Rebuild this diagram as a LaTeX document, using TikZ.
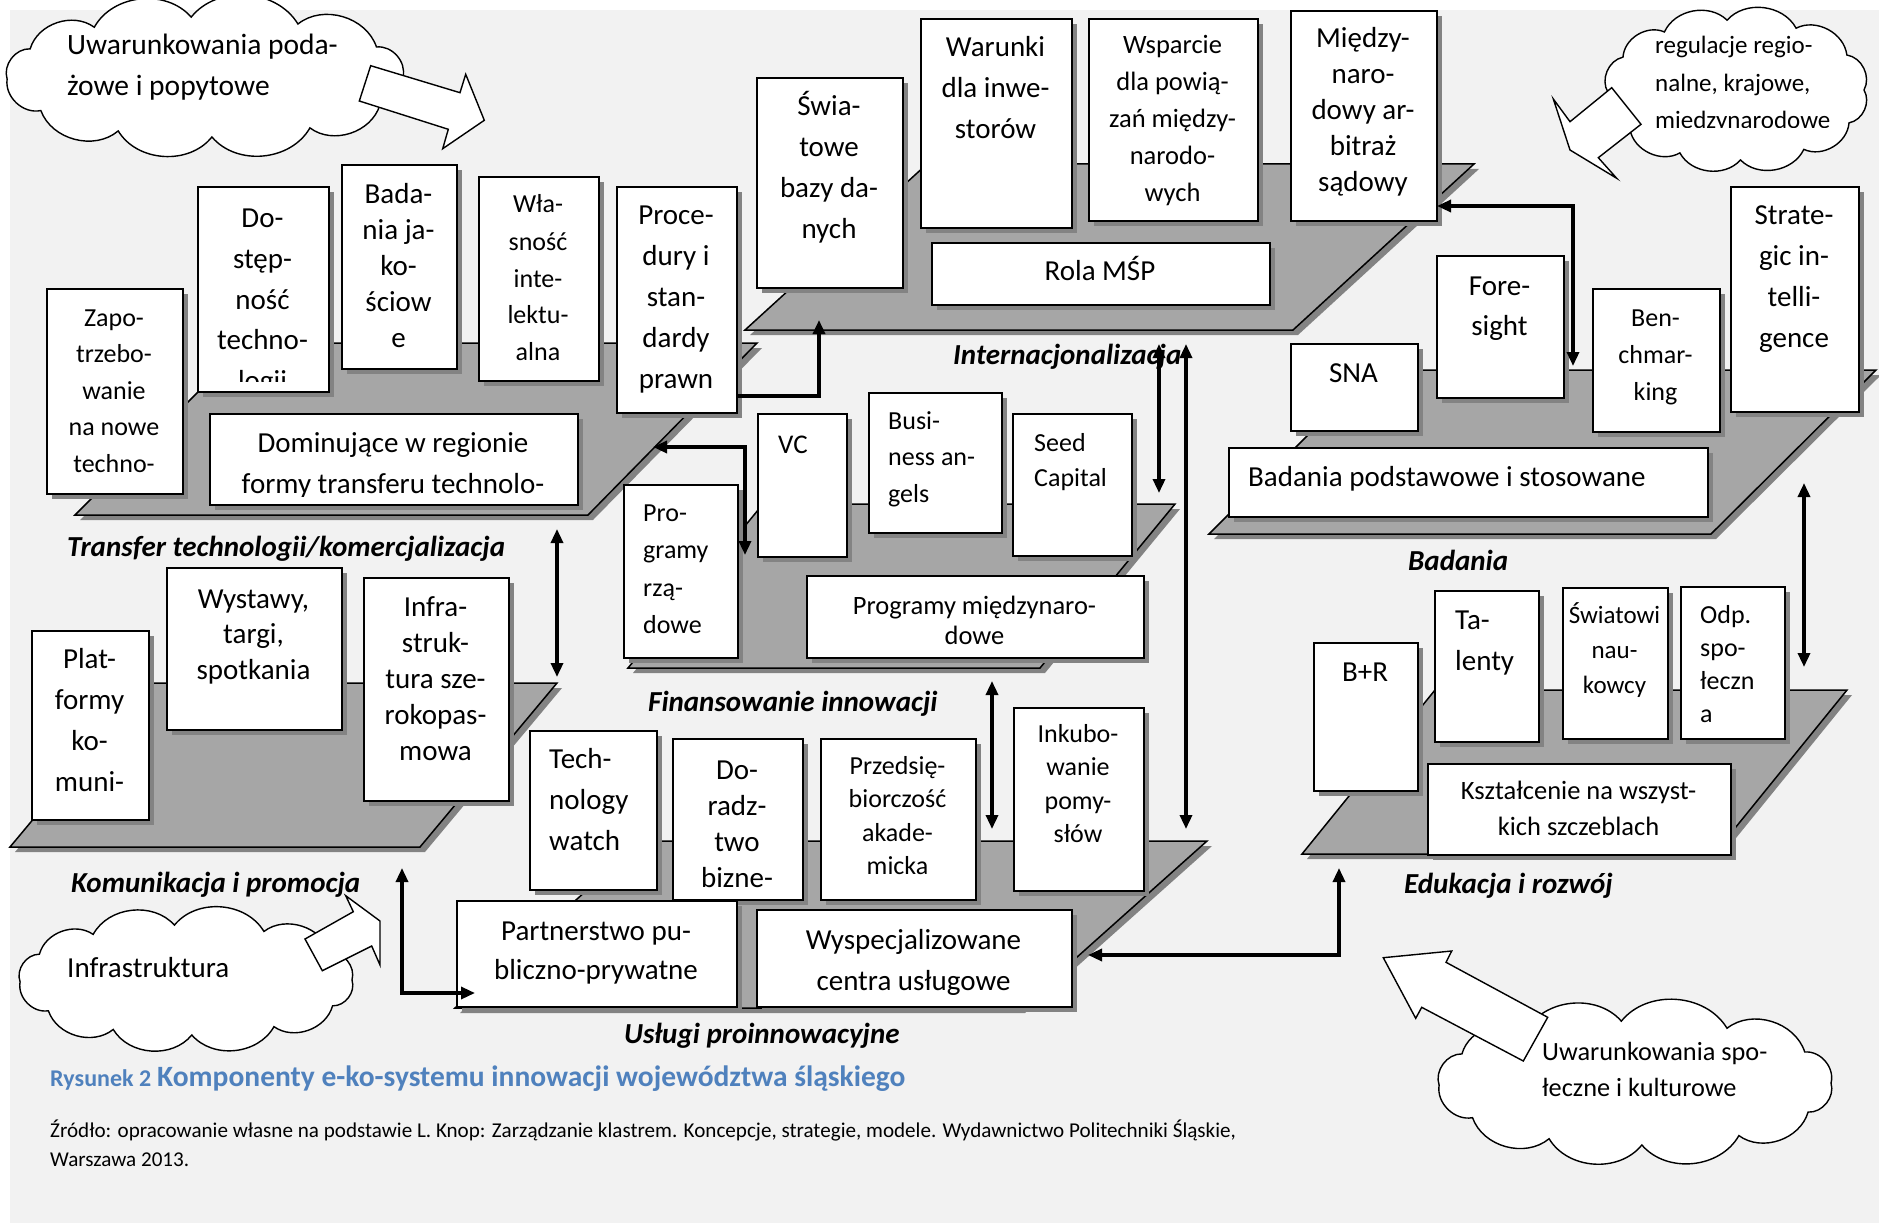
\documentclass[tikz,border=0pt]{standalone}
\usepackage{fontspec}
\setmainfont{Carlito}
\usetikzlibrary{arrows.meta}
\definecolor{bgc}{HTML}{F2F2F2}
\definecolor{platc}{HTML}{A6A6A6}
\definecolor{shc}{HTML}{838383}
\definecolor{capblue}{HTML}{4F81BD}
\newcommand\fs[2]{\fontsize{#1}{#2}\selectfont}
\newcommand\Lc[1]{\begin{tabular}[t]{@{}c@{}}#1\end{tabular}}
\newcommand\Ll[1]{\begin{tabular}[t]{@{}l@{}}#1\end{tabular}}
\tikzset{
  boxst/.style={draw=black, fill=white, line width=1.6pt, inner sep=0pt, rectangle},
  txt/.style={inner sep=0pt, anchor=base},
  txtl/.style={inner sep=0pt, anchor=base west},
  plat/.style={fill=platc, draw=black, line width=1.5pt, line join=miter},
  conn/.style={line width=3.3pt, -{Triangle[length=14pt,width=12pt]}},
  conntwo/.style={line width=3.3pt, {Triangle[length=14pt,width=12pt]}-{Triangle[length=14pt,width=12pt]}},
  lbl/.style={inner sep=0pt, anchor=base west, font=\fs{29}{35}\bfseries\itshape},
  blockarrow/.style={draw=black, fill=white, line width=1.4pt, line join=miter},
  cloudline/.style={draw=black, fill=white, line width=1.4pt},
}
% white box with a flat drop shadow: name, x1, y1, x2, y2
\newcommand\drawbox[5]{%
  \fill[shc] (#2+6,#3+6) rectangle (#4+6,#5+6);
  \node[boxst, anchor=north west, minimum width=#4-#2, minimum height=#5-#3] (#1) at (#2,#3) {};}
% grey platform (parallelogram) with its shadow: TL, TR, BR, BL
\newcommand\platform[8]{%
  \fill[shc] (#1+5,#2+5) -- (#3+5,#4+5) -- (#5+5,#6+5) -- (#7+5,#8+5) -- cycle;
  \draw[plat] (#1,#2) -- (#3,#4) -- (#5,#6) -- (#7,#8) -- cycle;}
% cloud: puffs bulging out of an ellipse; name, cx, cy, a, b
\newcommand\drawcloud[5]{%
  \coordinate (#1) at (#2,#3);
  \draw[cloudline, shift={(#2,#3)}] (0:#4 and #5)
    \foreach \t in {28,58,88,116,146,178,208,236,266,298,330,360} { to[bend left=55] (\t:#4 and #5) } -- cycle;}
\begin{document}
\begin{tikzpicture}[x=1pt,y=-1pt]
\useasboundingbox (0,0) rectangle (1879,1225);
\fill[white] (0,0) rectangle (1879,1225);
\fill[bgc] (10,10) rectangle (1879,1223);

% ---------- clouds with their block arrows ----------
\drawcloud{cl1}{205}{77}{198}{60}
\draw[blockarrow] (370.7,65.7) -- (460,92.7) -- (465.7,74.3) -- (484.3,120.3)
  -- (442.7,148.7) -- (448.3,129.3) -- (359.3,101) -- cycle;
\node[txtl, font=\fs{29.5}{41}] (t-cl1) at (67,55) {\Ll{Uwarunkowania poda-\\żowe i popytowe}};

\drawcloud{cl2}{186}{980}{166}{55}
\draw[blockarrow] (305,939) -- (353.3,911.7) -- (345.7,895.7) -- (380,921)
  -- (380,965) -- (371.7,946) -- (322.3,970.7) -- cycle;
\node[txtl, font=\fs{29}{36}] (t-cl2) at (67,977) {Infrastruktura};

\drawcloud{cl3}{1736}{90}{128}{70}
\draw[blockarrow] (1611.7,87.7) -- (1570,121.7) -- (1553.3,99) -- (1570,150)
  -- (1616.7,178.3) -- (1598.3,157.7) -- (1641,124.3) -- cycle;
\begin{scope}
  \clip (1600,10) rectangle (1879,128);
  \node[txtl, font=\fs{25}{37.5}] (t-cl3) at (1655,54) {\Ll{regulacje regio-\\nalne, krajowe,\\międzynarodowe}};
\end{scope}

\drawcloud{cl4}{1635}{1083}{196}{62}
\draw[blockarrow] (1383.3,957.7) -- (1451.7,951) -- (1446,962.3) -- (1547.7,1017.3)
  -- (1523.3,1061) -- (1421.7,1007.3) -- (1415.7,1018.3) -- cycle;
\node[txtl, font=\fs{26.3}{36}] (t-cl4) at (1542,1060) {\Ll{Uwarunkowania spo-\\łeczne i kulturowe}};

% ---------- Internacjonalizacja ----------
\platform{927}{164}{1474}{164}{1293}{330}{745}{330}
\drawbox{swia}{756}{77}{902}{287}
\node[txt, font=\fs{29}{41}] (t-swia) at (829,116) {\Lc{Świa-\\towe\\bazy da-\\nych}};
\drawbox{waru}{920}{18}{1071}{227}
\node[txt, font=\fs{29}{41}] (t-waru) at (995.5,57) {\Lc{Warunki\\dla inwe-\\storów}};
\drawbox{wspa}{1088}{18}{1257}{220}
\node[txt, font=\fs{26.5}{37}] (t-wspa) at (1172.5,54) {\Lc{Wsparcie\\dla powią-\\zań między-\\narodo-\\wych}};
\drawbox{miedz}{1290}{10}{1436}{220}
\node[txt, font=\fs{29}{36}] (t-miedz) at (1363,48) {\Lc{Między-\\naro-\\dowy ar-\\bitraż\\sądowy}};
\drawbox{rola}{931}{242}{1269}{304}
\node[txt, font=\fs{29}{41}] (t-rola) at (1100,280) {Rola MŚP};

% ---------- Transfer technologii ----------
\platform{247}{343}{757}{343}{588}{515}{75}{515}
\drawbox{zapo}{46}{288}{182}{493}
\node[txt, font=\fs{26}{36.5}] (t-zapo) at (114,326) {\Lc{Zapo-\\trzebo-\\wanie\\na nowe\\techno-}};
\drawbox{dost}{197}{186}{328}{391}
\begin{scope}
  \clip (197,186) rectangle (328,381);
  \node[txt, font=\fs{29}{41}] (t-dost) at (262.5,227) {\Lc{Do-\\stęp-\\ność\\techno-\\logii}};
\end{scope}
\drawbox{bada}{341}{164}{456}{368}
\node[txt, font=\fs{29}{36}] (t-bada) at (398.5,204) {\Lc{Bada-\\nia ja-\\ko-\\ściow\\e}};
\drawbox{wla}{478}{176}{598}{380}
\node[txt, font=\fs{26}{37}] (t-wla) at (538,213) {\Lc{Wła-\\sność\\inte-\\lektu-\\alna}};
\drawbox{proc}{616}{186}{736}{412}
\node[txt, font=\fs{29}{41}] (t-proc) at (676,225) {\Lc{Proce-\\dury i\\stan-\\dardy\\prawn}};
\drawbox{domi}{209}{413}{577}{504}
\begin{scope}
  \clip (209,413) rectangle (577,496);
  \node[txt, font=\fs{29}{41}] (t-domi) at (393,452) {\Lc{Dominujące w regionie\\formy transferu technolo-}};
\end{scope}

% ---------- Badania ----------
\platform{1373}{370}{1876}{370}{1711}{534}{1209}{534}
\drawbox{sna}{1290}{343}{1417}{430}
\node[txt, font=\fs{29}{41}] (t-sna) at (1353.5,382) {SNA};
\drawbox{fore}{1436}{255}{1563}{397}
\node[txt, font=\fs{29}{40}] (t-fore) at (1499.5,295) {\Lc{Fore-\\sight}};
\drawbox{bench}{1592}{288}{1719}{431}
\node[txt, font=\fs{26}{37}] (t-bench) at (1655.5,326) {\Lc{Ben-\\chmar-\\king}};
\drawbox{strat}{1730}{186}{1858}{411}
\node[txt, font=\fs{29}{41}] (t-strat) at (1794,225) {\Lc{Strate-\\gic in-\\telli-\\gence}};
\drawbox{bpod}{1228}{447}{1707}{516}
\node[txtl, font=\fs{29}{41}] (t-bpod) at (1248,486) {Badania podstawowe i stosowane};

% ---------- Finansowanie innowacji ----------
\platform{763}{504}{1175}{504}{1040}{668}{628}{668}
\drawbox{prog}{623}{484}{737}{657}
\node[txtl, font=\fs{26}{37.5}] (t-prog) at (643,521) {\Ll{Pro-\\gramy\\rzą-\\dowe}};
\drawbox{vc}{757}{413}{846}{556}
\node[txtl, font=\fs{27}{36}] (t-vc) at (778,453) {VC};
\drawbox{busi}{868}{392}{1001}{532}
\node[txtl, font=\fs{26}{36.5}] (t-busi) at (888,429) {\Ll{Busi-\\ness an-\\gels}};
\drawbox{seed}{1012}{413}{1131}{555}
\node[txtl, font=\fs{26}{35}] (t-seed) at (1034,451) {\Ll{Seed\\Capital}};
\drawbox{pmn}{806}{575}{1143}{657}
\node[txt, font=\fs{26.5}{30.5}] (t-pmn) at (974.5,614) {\Lc{Programy międzynaro-\\dowe}};

% ---------- Komunikacja i promocja ----------
\platform{147}{683}{557}{683}{420}{847}{10}{847}
\drawbox{plat}{31}{630}{148}{819}
\node[txt, font=\fs{29}{41}] (t-plat) at (89.5,668) {\Lc{Plat-\\formy\\ko-\\muni-}};
\drawbox{wyst}{166}{567}{341}{729}
\node[txt, font=\fs{29}{35.5}] (t-wyst) at (253.5,608) {\Lc{Wystawy,\\targi,\\spotkania}};
\drawbox{infra}{363}{577}{508}{800}
\node[txt, font=\fs{29}{36}] (t-infra) at (435.5,616) {\Lc{Infra-\\struk-\\tura sze-\\rokopas-\\mowa}};

% ---------- Usługi proinnowacyjne ----------
\platform{642}{841}{1207}{841}{1020}{1008}{455}{1008}
\drawbox{tech}{529}{730}{656}{889}
\node[txtl, font=\fs{29}{41}] (t-tech) at (549,768) {\Ll{Tech-\\nology\\watch}};
\drawbox{dora}{672}{738}{802}{899}
\node[txt, font=\fs{29}{36}] (t-dora) at (737,779) {\Lc{Do-\\radz-\\two\\bizne-}};
\drawbox{przed}{820}{738}{975}{899}
\node[txt, font=\fs{26}{33.5}] (t-przed) at (897.5,774) {\Lc{Przedsię-\\biorczość\\akade-\\micka}};
\drawbox{inku}{1013}{707}{1143}{890}
\node[txt, font=\fs{26}{33.5}] (t-inku) at (1078,742) {\Lc{Inkubo-\\wanie\\pomy-\\słów}};
\drawbox{part}{456}{900}{736}{1006}
\node[txt, font=\fs{29}{39}] (t-part) at (596,940) {\Lc{Partnerstwo pu-\\bliczno-prywatne}};
\drawbox{wysp}{756}{909}{1071}{1006}
\node[txt, font=\fs{29}{41}] (t-wysp) at (913.5,949) {\Lc{Wyspecjalizowane\\centra usługowe}};

% ---------- Edukacja i rozwój ----------
\platform{1435}{690}{1847}{690}{1714}{854}{1302}{854}
\drawbox{br}{1313}{642}{1417}{790}
\node[txt, font=\fs{29}{41}] (t-br) at (1365,681) {B+R};
\drawbox{tal}{1434}{590}{1538}{741}
\node[txtl, font=\fs{29}{41}] (t-tal) at (1455,629) {\Ll{Ta-\\lenty}};
\drawbox{swi}{1562}{587}{1667}{738}
\node[txt, font=\fs{25}{35}] (t-swi) at (1614.5,623) {\Lc{Światowi\\nau-\\kowcy}};
\drawbox{odp}{1680}{586}{1784}{738}
\node[txtl, font=\fs{26}{33}] (t-odp) at (1700,623) {\Ll{Odp.\\spo-\\łeczn\\a}};
\drawbox{ksz}{1427}{763}{1730}{854}
\node[txt, font=\fs{26.5}{36}] (t-ksz) at (1578.5,799) {\Lc{Kształcenie na wszyst-\\kich szczeblach}};

% ---------- platform names ----------
\node[lbl] (l-tr) at (67,556) {Transfer technologii/komercjalizacja};
\node[lbl] (l-in) at (953,364) {Internacjonalizacja};
\node[lbl] (l-ba) at (1408,570) {Badania};
\node[lbl] (l-fi) at (648,711) {Finansowanie innowacji};
\node[lbl] (l-ko) at (71,892) {Komunikacja i promocja};
\node[lbl] (l-ed) at (1404,893) {Edukacja i rozwój};
\node[lbl] (l-us) at (624,1043) {Usługi proinnowacyjne};

% ---------- links between the areas ----------
\coordinate (pA1) at (557,529);  \coordinate (pA2) at (557,677);
\coordinate (pB0) at (736,396);  \coordinate (pB1) at (819,320);
\coordinate (pC1) at (653,447);  \coordinate (pC2) at (745,555);
\coordinate (pD1) at (1159,344); \coordinate (pD2) at (1159,493);
\coordinate (pE1) at (1186,344); \coordinate (pE2) at (1186,829);
\coordinate (pF1) at (992,681);  \coordinate (pF2) at (992,829);
\coordinate (pG1) at (402,868);  \coordinate (pG2) at (475,993);
\coordinate (pH1) at (1088,955); \coordinate (pH2) at (1339,868);
\coordinate (pI1) at (1437,206); \coordinate (pI2) at (1573,366);
\coordinate (pJ1) at (1804,483); \coordinate (pJ2) at (1804,667);
\draw[conntwo] (pA1) -- (pA2);
\draw[conn] (pB0) -| (pB1);
\draw[conntwo] (pC1) -| (pC2);
\draw[conntwo] (pD1) -- (pD2);
\draw[conntwo] (pE1) -- (pE2);
\draw[conntwo] (pF1) -- (pF2);
\draw[conntwo] (pG1) |- (pG2);
\draw[conntwo] (pH1) -| (pH2);
\draw[conntwo] (pI1) -| (pI2);
\draw[conntwo] (pJ1) -- (pJ2);

% ---------- caption and source ----------
\node[txtl, text=capblue, font=\fs{24}{28}\bfseries] (capA) at (50,1086) {Rysunek 2};
\node[txtl, text=capblue, font=\fs{29.5}{34}\bfseries] (capB) at (157,1086) {Komponenty e-ko-systemu innowacji województwa śląskiego};
\node[txtl, font=\fs{21.1}{29}] (src) at (50,1137) {\Ll{Źródło: opracowanie własne na podstawie L. Knop: Zarządzanie klastrem. Koncepcje, strategie, modele. Wydawnictwo Politechniki Śląskie,\\Warszawa 2013.}};
\end{tikzpicture}
\end{document}
